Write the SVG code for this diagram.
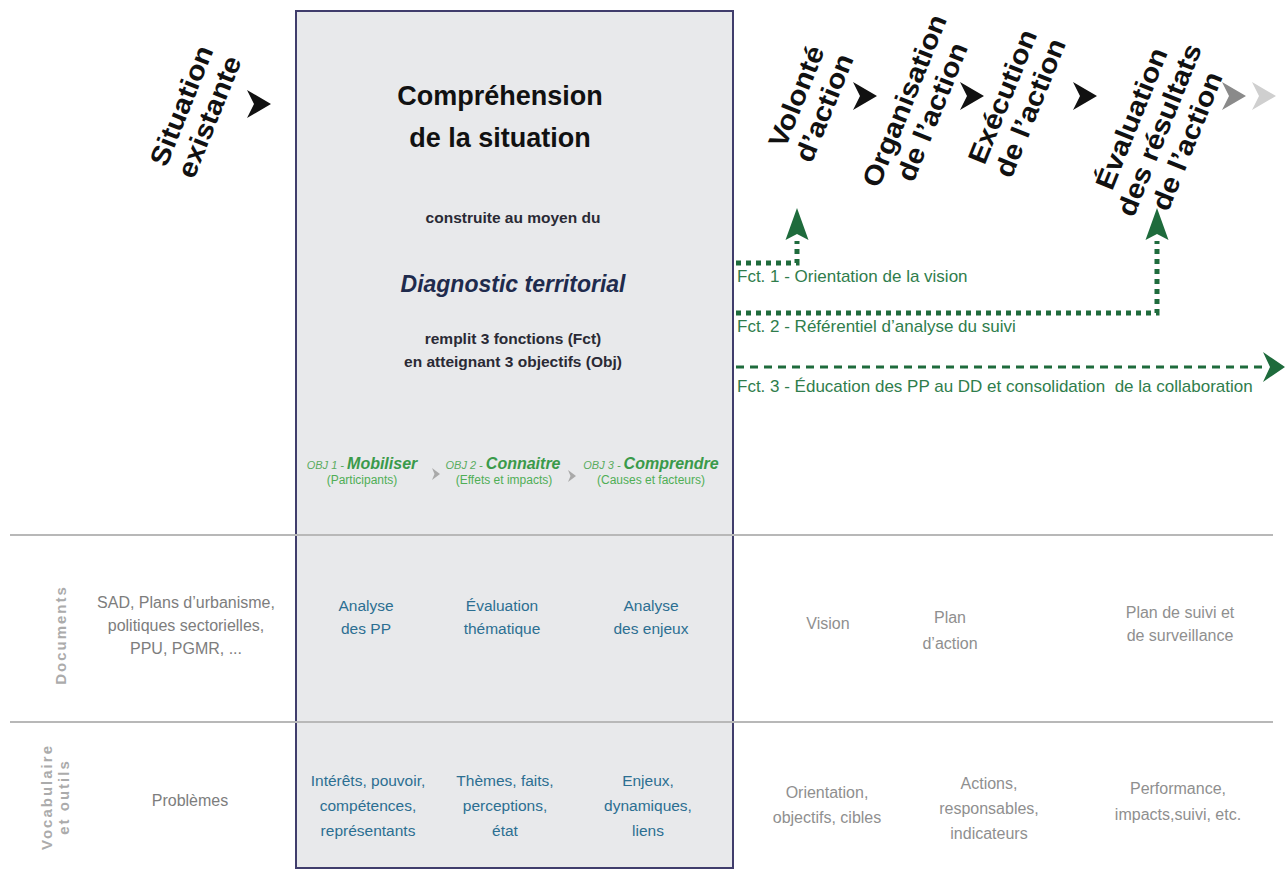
<svg xmlns="http://www.w3.org/2000/svg" width="1287" height="873" viewBox="0 0 1287 873">
<defs>
<style>
text{font-family:"Liberation Sans",Arial,sans-serif}
.rot{font-size:27px;font-weight:bold;fill:#111}
.gray{font-size:16px;fill:#7d7d7d}
.lgray{font-size:16px;fill:#8f8f8f}
.blue{font-size:15.5px;fill:#2c6f92}
.side{font-size:15px;font-weight:bold;fill:#ababab;letter-spacing:2px}
.fct{font-size:17px;fill:#2f7d4c}
.ctr{text-anchor:middle}
.dot{fill:none;stroke:#1e6b3c;stroke-width:5;stroke-dasharray:5 5}
.dash{fill:none;stroke:#1e6b3c;stroke-width:3;stroke-dasharray:8 6}
.ghead{fill:#1e6b3c}
.obj{font-size:11px;font-style:italic;fill:#5aac5f}
.objb{font-size:16px;font-style:italic;font-weight:bold;fill:#3a9a4a}
.objs{font-size:12px;fill:#4fae55}
</style>
<path id="chev" d="M-12,-14 L12,0 L-12,14 L-5,0 Z"/>
<path id="schev" d="M-4,-6 L4,0 L-4,6 L-1.5,0 Z"/>
</defs>
<rect width="1287" height="873" fill="#ffffff"/>

<g id="center-box">
<rect x="296" y="11" width="437" height="857" fill="#e8e9eb" stroke="#403d6c" stroke-width="2"/>
<text x="500" y="105" class="ctr" font-size="27" font-weight="bold" fill="#111">Compréhension</text>
<text x="500" y="147" class="ctr" font-size="27" font-weight="bold" fill="#111">de la situation</text>
<text x="513" y="223" class="ctr" font-size="15.5" font-weight="bold" fill="#2a2a35">construite au moyen du</text>
<text x="513" y="292" class="ctr" font-size="23" font-weight="bold" font-style="italic" fill="#1f2b4d">Diagnostic territorial</text>
<text x="513" y="344" class="ctr" font-size="15.5" font-weight="bold" fill="#2a2a35">remplit 3 fonctions (Fct)</text>
<text x="513" y="367" class="ctr" font-size="15.5" font-weight="bold" fill="#2a2a35">en atteignant 3 objectifs (Obj)</text>
</g>

<g id="row-lines">
<line x1="10" y1="535" x2="1273" y2="535" stroke="#b8b8b8" stroke-width="2"/>
<line x1="10" y1="722" x2="1273" y2="722" stroke="#b8b8b8" stroke-width="2"/>
</g>

<g id="situation-existante">
<text class="rot ctr" transform="translate(190,109) rotate(-68) scale(1.1,1)"><tspan x="0" y="0">Situation</tspan><tspan x="0" y="30">existante</tspan></text>
<use href="#chev" x="259" y="104" fill="#111"/>
</g>

<g id="volonte">
<text class="rot ctr" transform="translate(805,100) rotate(-68) scale(1.1,1)"><tspan x="0" y="0">Volonté</tspan><tspan x="0" y="30">d’action</tspan></text>
</g>
<g id="organisation">
<text class="rot ctr" transform="translate(913,104) rotate(-68) scale(1.1,1)"><tspan x="0" y="0">Organisation</tspan><tspan x="0" y="30">de l’action</tspan></text>
</g>
<g id="execution">
<text class="rot ctr" transform="translate(1011,100) rotate(-68) scale(1.1,1)"><tspan x="0" y="0">Exécution</tspan><tspan x="0" y="30">de l’action</tspan></text>
</g>
<g id="evaluation">
<text class="rot ctr" transform="translate(1140,122) rotate(-68) scale(1.1,1)"><tspan x="0" y="0">Évaluation</tspan><tspan x="0" y="30">des résultats</tspan><tspan x="0" y="60">de l’action</tspan></text>
</g>
<g id="chevrons">
<use href="#chev" x="865" y="96" fill="#111"/>
<use href="#chev" x="972" y="96" fill="#111"/>
<use href="#chev" x="1085" y="96" fill="#111"/>
<use href="#chev" x="1234" y="96" fill="#8a8a8a"/>
<use href="#chev" x="1264" y="96" fill="#cfcfcf"/>
</g>

<g id="connectors">
<path class="dot" d="M736,263 H797 V241"/>
<path class="ghead" d="M797,208 L808.5,240 L797,234 L785.5,240 Z"/>
<path class="dot" d="M736,313 H1157 V241"/>
<path class="ghead" d="M1157,208 L1168.5,240 L1157,234 L1145.5,240 Z"/>
<path class="dash" d="M736,367 H1268"/>
<path class="ghead" d="M1285,367 L1263,352 L1270,367 L1263,382 Z"/>
</g>

<g id="fct-labels">
<text x="737" y="282" class="fct">Fct. 1 - Orientation de la vision</text>
<text x="737" y="332" class="fct">Fct. 2 - Référentiel d’analyse du suivi</text>
<text x="737" y="392" class="fct" xml:space="preserve">Fct. 3 - Éducation des PP au DD et consolidation  de la collaboration</text>
</g>

<g id="objectives">
<text x="362" y="469" class="ctr"><tspan class="obj">OBJ 1 - </tspan><tspan class="objb">Mobiliser</tspan></text>
<text x="362" y="484" class="ctr objs">(Participants)</text>
<use href="#schev" x="436" y="474" fill="#a9a9a9"/>
<text x="503" y="469" class="ctr"><tspan class="obj">OBJ 2 - </tspan><tspan class="objb">Connaitre</tspan></text>
<text x="504" y="484" class="ctr objs">(Effets et impacts)</text>
<use href="#schev" x="572" y="476" fill="#a9a9a9"/>
<text x="651" y="469" class="ctr"><tspan class="obj">OBJ 3 - </tspan><tspan class="objb">Comprendre</tspan></text>
<text x="651" y="484" class="ctr objs">(Causes et facteurs)</text>
</g>

<g id="row-documents">
<text class="side ctr" transform="translate(66,635) rotate(-90)">Documents</text>
<text class="gray ctr" x="186" y="608">SAD, Plans d’urbanisme,</text>
<text class="gray ctr" x="186" y="631">politiques sectorielles,</text>
<text class="gray ctr" x="186" y="654">PPU, PGMR, ...</text>
<text class="blue ctr" x="366" y="611">Analyse</text>
<text class="blue ctr" x="366" y="634">des PP</text>
<text class="blue ctr" x="502" y="611">Évaluation</text>
<text class="blue ctr" x="502" y="634">thématique</text>
<text class="blue ctr" x="651" y="611">Analyse</text>
<text class="blue ctr" x="651" y="634">des enjeux</text>
<text class="lgray ctr" x="828" y="629">Vision</text>
<text class="lgray ctr" x="950" y="623">Plan</text>
<text class="lgray ctr" x="950" y="649">d’action</text>
<text class="lgray ctr" x="1180" y="618">Plan de suivi et</text>
<text class="lgray ctr" x="1180" y="641">de surveillance</text>
</g>

<g id="row-vocabulaire">
<text class="side ctr" transform="translate(52,797) rotate(-90)">Vocabulaire</text>
<text class="side ctr" transform="translate(69,797) rotate(-90)">et outils</text>
<text class="gray ctr" x="190" y="806">Problèmes</text>
<text class="blue ctr" x="368" y="786">Intérêts, pouvoir,</text>
<text class="blue ctr" x="368" y="811">compétences,</text>
<text class="blue ctr" x="368" y="836">représentants</text>
<text class="blue ctr" x="505" y="786">Thèmes, faits,</text>
<text class="blue ctr" x="505" y="811">perceptions,</text>
<text class="blue ctr" x="505" y="836">état</text>
<text class="blue ctr" x="648" y="786">Enjeux,</text>
<text class="blue ctr" x="648" y="811">dynamiques,</text>
<text class="blue ctr" x="648" y="836">liens</text>
<text class="lgray ctr" x="827" y="798">Orientation,</text>
<text class="lgray ctr" x="827" y="823">objectifs, cibles</text>
<text class="lgray ctr" x="989" y="789">Actions,</text>
<text class="lgray ctr" x="989" y="814">responsables,</text>
<text class="lgray ctr" x="989" y="839">indicateurs</text>
<text class="lgray ctr" x="1178" y="794">Performance,</text>
<text class="lgray ctr" x="1178" y="820">impacts,suivi, etc.</text>
</g>
</svg>
